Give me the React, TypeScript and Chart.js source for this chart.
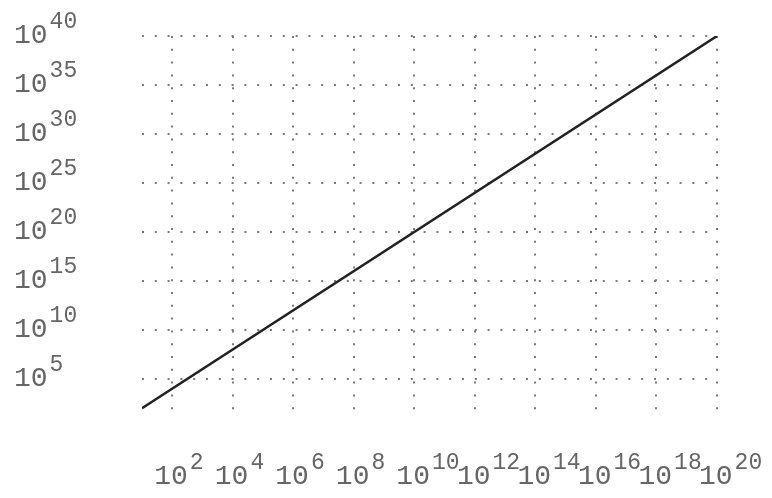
import React, { useEffect, useRef } from "react";
import { Chart, registerables } from "chart.js";

Chart.register(...registerables);

// data: y = x^2 on log-log axes
const xValues = [1e1, 1e20];
const yValues = [1e2, 1e40];
const xTickExponents = [2, 4, 6, 8, 10, 12, 14, 16, 18, 20];
const yTickExponents = [5, 10, 15, 20, 25, 30, 35, 40];
const xMin = 1e1;
const xMax = 1e20;
const yMin = 1e1;
const yMax = 1e40;

const FONT = '"Liberation Mono", "Courier New", monospace';
const BASE_SIZE = 28;
const SUP_SIZE = 23;
const SUP_RAISE = 15;
const TEXT_COLOR = "#666";

function drawPower(ctx: CanvasRenderingContext2D, startX: number, baseY: number, exp: string) {
  ctx.save();
  ctx.fillStyle = TEXT_COLOR;
  ctx.textBaseline = "alphabetic";
  ctx.textAlign = "left";
  ctx.font = `${BASE_SIZE}px ${FONT}`;
  const wBase = ctx.measureText("10").width;
  ctx.fillText("10", startX, baseY);
  ctx.font = `${SUP_SIZE}px ${FONT}`;
  ctx.fillText(exp, startX + wBase + 2, baseY - SUP_RAISE);
  ctx.restore();
}

const labelPlugin = {
  id: "powerLabels",
  afterDraw(chart: any) {
    const ctx = chart.ctx as CanvasRenderingContext2D;
    const xs = chart.scales.x;
    const ys = chart.scales.y;
    ys.ticks.forEach((t: any) => {
      const py = ys.getPixelForValue(t.value);
      const e = String(Math.round(Math.log10(t.value)));
      drawPower(ctx, 14, py + 7, e);
    });
    xs.ticks.forEach((t: any) => {
      const px = xs.getPixelForValue(t.value);
      const e = String(Math.round(Math.log10(t.value)));
      drawPower(ctx, px - 18, 484, e);
    });
  },
};

export default function App() {
  const ref = useRef<HTMLCanvasElement | null>(null);
  useEffect(() => {
    if (!ref.current) return;
    const gridCommon = {
      color: "#7a7a7a",
      lineWidth: 2,
      drawTicks: false,
    };
    const chart = new Chart(ref.current, {
      type: "line",
      data: {
        datasets: [
          {
            data: xValues.map((x, i) => ({ x, y: yValues[i] })),
            borderColor: "#222",
            borderWidth: 2.5,
            pointRadius: 0,
            fill: false,
          },
        ],
      },
      options: {
        animation: false,
        responsive: false,
        maintainAspectRatio: false,
        layout: { padding: { left: 142, right: 55, top: 36, bottom: 80 } },
        plugins: { legend: { display: false }, tooltip: { enabled: false } },
        scales: {
          x: {
            type: "logarithmic",
            min: xMin,
            max: xMax,
            grid: gridCommon,
            border: { display: false, dash: [2, 10.8] },
            ticks: { display: false },
            afterBuildTicks: (s: any) => {
              s.ticks = xTickExponents.map((e) => ({ value: Math.pow(10, e) }));
            },
            afterFit: (s: any) => {
              s.height = 0;
            },
          },
          y: {
            type: "logarithmic",
            min: yMin,
            max: yMax,
            grid: gridCommon,
            border: { display: false, dash: [2, 10.8] },
            ticks: { display: false },
            afterBuildTicks: (s: any) => {
              s.ticks = yTickExponents.map((e) => ({ value: Math.pow(10, e) }));
            },
            afterFit: (s: any) => {
              s.width = 0;
            },
          },
        },
      },
      plugins: [labelPlugin],
    } as any);
    return () => chart.destroy();
  }, []);
  return (
    <div style={{ position: "fixed", left: 0, top: 0, width: 772, height: 498, background: "#fff" }}>
      <canvas ref={ref} width={772} height={498} style={{ width: 772, height: 498 }} />
    </div>
  );
}
